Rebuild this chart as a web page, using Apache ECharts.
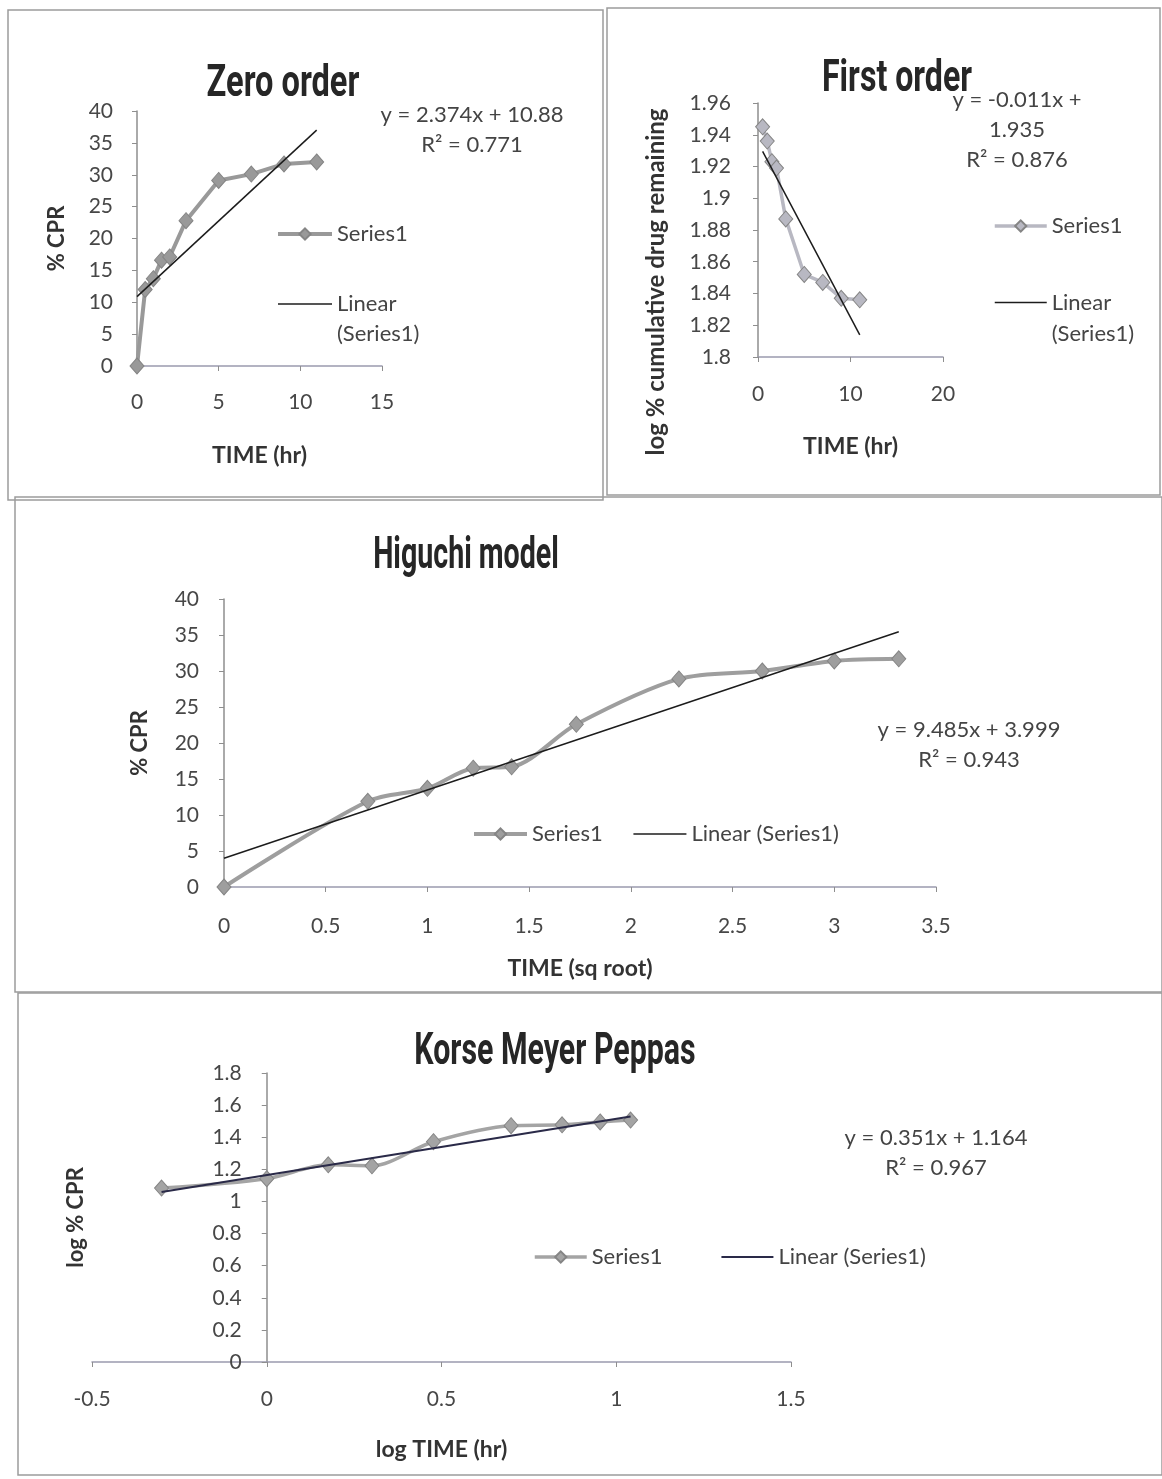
<!DOCTYPE html>
<html><head><meta charset="utf-8">
<script src="https://cdn.jsdelivr.net/npm/echarts@6/dist/echarts.min.js"></script>
<style>html,body{margin:0;padding:0;background:#fff}#c{width:1162px;height:1479px}</style>
</head><body><div id="c"></div>
<script>
// ---------- Zero order ----------
const zeroTime = [0, 0.5, 1, 1.5, 2, 3, 5, 7, 9, 11];
const zeroCPR = [0, 12.0, 13.7, 16.6, 17.1, 22.8, 29.1, 30.1, 31.7, 32.0];
const zeroSlope = 2.374, zeroIntercept = 10.88, zeroR2 = '0.771';
const zeroXTicks = [0, 5, 10, 15];
const zeroYTicks = [0, 5, 10, 15, 20, 25, 30, 35, 40];

// ---------- First order ----------
const firstTime = [0.5, 1, 1.5, 2, 3, 5, 7, 9, 11];
const firstLogRemain = [1.945, 1.936, 1.923, 1.919, 1.887, 1.852, 1.847, 1.837, 1.836];
const firstSlope = -0.011, firstIntercept = 1.935, firstR2 = '0.876';
const firstXTicks = [0, 10, 20];
const firstYTicks = [1.8, 1.82, 1.84, 1.86, 1.88, 1.9, 1.92, 1.94, 1.96];

// ---------- Higuchi ----------
const higSqrtTime = [0, 0.707, 1, 1.225, 1.414, 1.732, 2.236, 2.646, 3, 3.317];
const higCPR = [0, 11.9, 13.7, 16.5, 16.7, 22.6, 28.9, 30.0, 31.4, 31.7];
const higSlope = 9.485, higIntercept = 3.999, higR2 = '0.943';
const higXTicks = [0, 0.5, 1, 1.5, 2, 2.5, 3, 3.5];
const higYTicks = [0, 5, 10, 15, 20, 25, 30, 35, 40];

// ---------- Korsmeyer-Peppas ----------
const kpLogTime = [-0.301, 0, 0.176, 0.301, 0.477, 0.699, 0.845, 0.954, 1.041];
const kpLogCPR = [1.083, 1.142, 1.228, 1.222, 1.372, 1.472, 1.477, 1.495, 1.507];
const kpSlope = 0.351, kpIntercept = 1.164, kpR2 = '0.967';
const kpXTicks = [-0.5, 0, 0.5, 1, 1.5];
const kpYTicks = [0, 0.2, 0.4, 0.6, 0.8, 1, 1.2, 1.4, 1.6, 1.8];

const chartTitles = ['Zero order', 'First order', 'Higuchi model', 'Korse Meyer Peppas'];

const FONT = 'Lato';
const TITLE_FONT = 'bold 44px Roboto';
const labelColor = '#474747';
const axisColor = '#8e8e8e';
const xAxisColor = '#9a9aae';

function pairs(xs, ys) { return xs.map((x, i) => [x, ys[i]]); }
function trend(xs, m, b) {
  const lo = Math.min(...xs), hi = Math.max(...xs);
  return [[lo, m * lo + b], [hi, m * hi + b]];
}
function eqText(m, b) {
  const s = b >= 0 ? ' + ' : ' - ';
  return 'y = ' + m + 'x' + s + Math.abs(b);
}

function xAxis(grid, ticks, name, nameGap, margin, extra) {
  return Object.assign({
    type: 'value', gridIndex: grid,
    min: ticks[0], max: ticks[ticks.length - 1], interval: ticks[1] - ticks[0],
    name: name, nameLocation: 'middle', nameGap: nameGap,
    nameTextStyle: { fontFamily: FONT, fontWeight: 'bold', fontSize: 23, color: '#333' },
    axisLine: { show: true, onZero: false, lineStyle: { color: xAxisColor, width: 1.5 } },
    axisTick: { show: true, inside: false, length: 5, lineStyle: { color: axisColor } },
    axisLabel: { fontFamily: FONT, fontSize: 21, color: labelColor, margin: margin },
    splitLine: { show: false }
  }, extra || {});
}
function yAxis(grid, ticks, name, nameGap, margin, extra, nameExtra) {
  return Object.assign({
    type: 'value', gridIndex: grid,
    min: ticks[0], max: ticks[ticks.length - 1], interval: +(ticks[1] - ticks[0]).toFixed(4),
    name: name, nameLocation: 'middle', nameGap: nameGap, nameRotate: 90,
    nameTextStyle: Object.assign({ fontFamily: FONT, fontWeight: 'bold', fontSize: 22, color: '#333' }, nameExtra || {}),
    axisLine: { show: true, onZero: false, lineStyle: { color: axisColor, width: 1.5 } },
    axisTick: { show: true, length: 5, lineStyle: { color: axisColor } },
    axisLabel: { fontFamily: FONT, fontSize: 21, color: labelColor, margin: margin },
    splitLine: { show: false }
  }, extra || {});
}

function dataSeries(prefix, idx, xs, ys, color, width, smooth) {
  return {
    name: prefix + ':Series1', type: 'line', xAxisIndex: idx, yAxisIndex: idx,
    data: pairs(xs, ys), smooth: smooth, symbol: 'diamond', symbolSize: [14, 16],
    lineStyle: { color: color, width: width },
    itemStyle: { color: color, borderColor: '#858585', borderWidth: 1 },
    z: 2
  };
}
function fitSeries(prefix, idx, xs, m, b, color, width) {
  return {
    name: prefix + ':Linear (Series1)', type: 'line', xAxisIndex: idx, yAxisIndex: idx,
    data: trend(xs, m, b), symbol: 'none',
    lineStyle: { color: color, width: width },
    itemStyle: { color: color, opacity: 0 },
    z: 3
  };
}

const legendText = { fontFamily: FONT, fontSize: 22, color: '#444' };
const stripName = n => n.split(':')[1];
const legendLine = { width: 'inherit' };

function titleText(i, x, y, sx) {
  return { type: 'text', x: x, y: y, scaleX: sx, silent: true,
    style: { text: chartTitles[i], align: 'center', verticalAlign: 'middle', font: TITLE_FONT, fill: '#262626' } };
}
function border(x, y, w, h) {
  return { type: 'rect', silent: true, shape: { x: x, y: y, width: w, height: h }, style: { fill: 'none', stroke: '#9c9c9c', lineWidth: 1.5 } };
}
function eqGraphic(text, x, y) {
  return { type: 'text', silent: true, style: { text: text, x: x, y: y, align: 'center', verticalAlign: 'middle', font: '22px ' + FONT, lineHeight: 30, fill: '#444' } };
}

// Korsmeyer plot: the vertical axis crosses the horizontal axis at x = 0
const kpGridWidth = 699;
const kpYAxisShift = -kpGridWidth * (0 - kpXTicks[0]) / (kpXTicks[kpXTicks.length - 1] - kpXTicks[0]);

const option = {
  animation: false,
  backgroundColor: '#fff',
  grid: [
    { left: 137, top: 111, width: 245, height: 255, outerBoundsMode: 'none' },
    { left: 758, top: 103, width: 185, height: 254, outerBoundsMode: 'none' },
    { left: 224, top: 599, width: 712, height: 288, outerBoundsMode: 'none' },
    { left: 92, top: 1073, width: kpGridWidth, height: 289, outerBoundsMode: 'none' }
  ],
  xAxis: [
    xAxis(0, zeroXTicks, 'TIME (hr)', 78, 26),
    xAxis(1, firstXTicks, 'TIME (hr)', 78, 27),
    xAxis(2, higXTicks, 'TIME (sq root)', 70, 29),
    xAxis(3, kpXTicks, 'log TIME (hr)', 76, 27)
  ],
  yAxis: [
    yAxis(0, zeroYTicks, '% CPR', 69, 24),
    yAxis(1, firstYTicks, 'log % cumulative drug remaining', 90, 27, null, { fontSize: 24, padding: [0, 104, 0, 0] }),
    yAxis(2, higYTicks, '% CPR', 73, 25),
    yAxis(3, kpYTicks, 'log % CPR', 180, 25, { offset: kpYAxisShift })
  ],
  legend: [
    {
      orient: 'vertical', left: 276, top: 223, padding: 0, itemGap: 14, itemWidth: 54, itemHeight: 14,
      textStyle: legendText, lineStyle: legendLine,
      data: [{ name: 'zero:Series1' }, { name: 'zero:Linear (Series1)', textStyle: { lineHeight: 30 } }],
      formatter: n => n === 'zero:Linear (Series1)' ? '\nLinear\n(Series1)' : stripName(n)
    },
    {
      orient: 'vertical', left: 993, top: 215, padding: 0, itemGap: 19, itemWidth: 52, itemHeight: 14,
      textStyle: legendText, lineStyle: legendLine,
      data: [{ name: 'first:Series1' }, { name: 'first:Linear (Series1)', textStyle: { lineHeight: 31 } }],
      formatter: n => n === 'first:Linear (Series1)' ? '\nLinear\n(Series1)' : stripName(n)
    },
    {
      orient: 'horizontal', left: 472, top: 823, padding: 0, itemGap: 30, itemWidth: 53, itemHeight: 14,
      textStyle: legendText, lineStyle: legendLine,
      data: ['hig:Series1', 'hig:Linear (Series1)'],
      formatter: stripName
    },
    {
      orient: 'horizontal', left: 533, top: 1246, padding: 0, itemGap: 58, itemWidth: 52, itemHeight: 14,
      textStyle: legendText, lineStyle: legendLine,
      data: ['kp:Series1', 'kp:Linear (Series1)'],
      formatter: stripName
    }
  ],
  graphic: [
    border(8, 10, 595, 490),
    border(607, 8, 553, 487),
    border(15, 497, 1147, 495),
    border(18, 993, 1144, 482),
    titleText(0, 283, 85, 0.74),
    titleText(1, 897, 80, 0.73),
    titleText(2, 466, 557, 0.65),
    titleText(3, 555, 1053, 0.69),
    eqGraphic(eqText(zeroSlope, zeroIntercept) + '\nR² = ' + zeroR2, 472, 130),
    eqGraphic('y = ' + firstSlope + 'x +\n' + firstIntercept + '\nR² = ' + firstR2, 1017, 130),
    eqGraphic(eqText(higSlope, higIntercept) + '\nR² = ' + higR2, 969, 745),
    eqGraphic(eqText(kpSlope, kpIntercept) + '\nR² = ' + kpR2, 936, 1153)
  ],
  series: [
    dataSeries('zero', 0, zeroTime, zeroCPR, '#999999', 4, false),
    fitSeries('zero', 0, zeroTime, zeroSlope, zeroIntercept, '#1c1c1c', 1.5),
    dataSeries('first', 1, firstTime, firstLogRemain, '#b8b8c2', 3.5, false),
    fitSeries('first', 1, firstTime, firstSlope, firstIntercept, '#1c1c1c', 1.5),
    dataSeries('hig', 2, higSqrtTime, higCPR, '#9e9e9e', 4, 0.3),
    fitSeries('hig', 2, higSqrtTime, higSlope, higIntercept, '#1c1c1c', 1.5),
    dataSeries('kp', 3, kpLogTime, kpLogCPR, '#a4a4a4', 3.5, 0.3),
    fitSeries('kp', 3, kpLogTime, kpSlope, kpIntercept, '#2a2a48', 2)
  ]
};
const chart = echarts.init(document.getElementById('c'), null, { renderer: 'canvas' });
chart.setOption(option);
</script>
</body></html>
